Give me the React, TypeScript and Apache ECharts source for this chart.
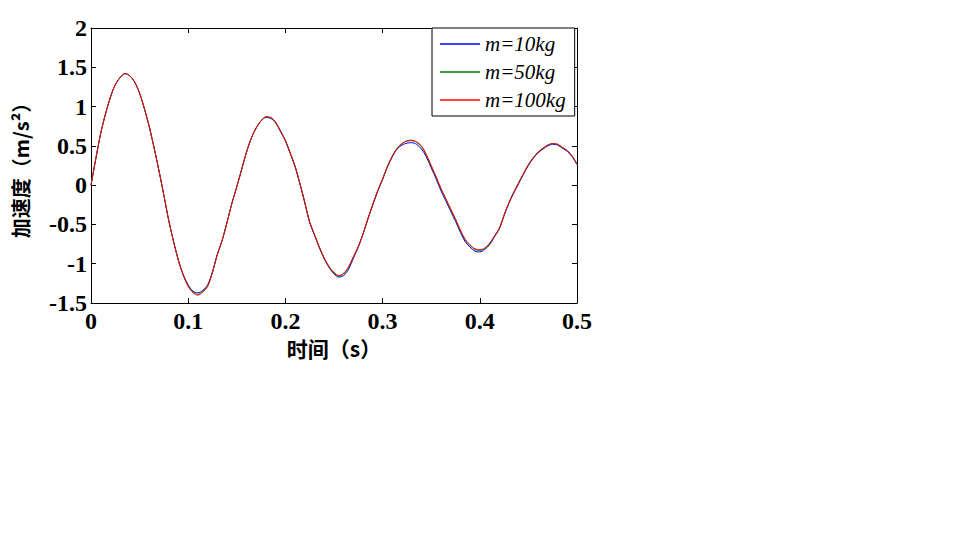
import React, { useEffect, useRef } from "react";
import * as echarts from "echarts";

const times = [
  0, 0.005, 0.01, 0.015, 0.02, 0.025, 0.03, 0.035, 0.04, 0.045,
  0.05, 0.055, 0.06, 0.065, 0.07, 0.075, 0.08, 0.085, 0.09, 0.095,
  0.1, 0.105, 0.11, 0.115, 0.12, 0.125, 0.13, 0.135, 0.14, 0.145,
  0.15, 0.155, 0.16, 0.165, 0.17, 0.175, 0.18, 0.185, 0.19, 0.195,
  0.2, 0.205, 0.21, 0.215, 0.22, 0.225, 0.23, 0.235, 0.24, 0.245,
  0.25, 0.255, 0.26, 0.265, 0.27, 0.275, 0.28, 0.285, 0.29, 0.295,
  0.3, 0.305, 0.31, 0.315, 0.32, 0.325, 0.33, 0.335, 0.34, 0.345,
  0.35, 0.355, 0.36, 0.365, 0.37, 0.375, 0.38, 0.385, 0.39, 0.395,
  0.4, 0.405, 0.41, 0.415, 0.42, 0.425, 0.43, 0.435, 0.44, 0.445,
  0.45, 0.455, 0.46, 0.465, 0.47, 0.475, 0.48, 0.485, 0.49, 0.495,
  0.5,
];

const accM100 = [
  0, 0.34, 0.66, 0.91, 1.12, 1.28, 1.37, 1.42, 1.39, 1.31,
  1.17, 0.97, 0.74, 0.47, 0.18, -0.13, -0.45, -0.72, -0.96, -1.15,
  -1.29, -1.37, -1.4, -1.36, -1.29, -1.11, -0.88, -0.7, -0.47, -0.23,
  -0.02, 0.2, 0.42, 0.6, 0.73, 0.82, 0.87, 0.86, 0.8, 0.69,
  0.57, 0.41, 0.24, 0.02, -0.22, -0.47, -0.63, -0.79, -0.93, -1.04,
  -1.11, -1.15, -1.12, -1.04, -0.91, -0.78, -0.615, -0.42, -0.24, -0.07,
  0.08, 0.24, 0.37, 0.47, 0.53, 0.565, 0.573, 0.55, 0.5, 0.39,
  0.25, 0.11, -0.04, -0.17, -0.3, -0.43, -0.57, -0.69, -0.76, -0.81,
  -0.82, -0.8, -0.74, -0.65, -0.55, -0.38, -0.22, -0.09, 0.03, 0.15,
  0.26, 0.35, 0.42, 0.47, 0.51, 0.53, 0.52, 0.48, 0.44, 0.37,
  0.27,
];

const accM50 = [
  0, 0.34, 0.66, 0.91, 1.12, 1.28, 1.37, 1.42, 1.39, 1.31,
  1.17, 0.97, 0.74, 0.47, 0.18, -0.13, -0.45, -0.72, -0.96, -1.15,
  -1.28, -1.36, -1.39, -1.35, -1.28, -1.11, -0.88, -0.7, -0.47, -0.23,
  -0.02, 0.2, 0.42, 0.6, 0.73, 0.82, 0.87, 0.86, 0.8, 0.69,
  0.57, 0.41, 0.24, 0.02, -0.22, -0.47, -0.63, -0.79, -0.93, -1.04,
  -1.12, -1.16, -1.13, -1.05, -0.91, -0.78, -0.615, -0.42, -0.24, -0.07,
  0.08, 0.24, 0.37, 0.47, 0.53, 0.56, 0.565, 0.545, 0.49, 0.38,
  0.24, 0.1, -0.05, -0.18, -0.31, -0.44, -0.58, -0.7, -0.77, -0.82,
  -0.83, -0.81, -0.75, -0.65, -0.55, -0.38, -0.22, -0.09, 0.03, 0.15,
  0.26, 0.35, 0.42, 0.47, 0.51, 0.53, 0.52, 0.48, 0.44, 0.37,
  0.27,
];

const accM10 = [
  0, 0.34, 0.66, 0.91, 1.12, 1.28, 1.37, 1.42, 1.39, 1.31,
  1.17, 0.97, 0.74, 0.47, 0.18, -0.13, -0.45, -0.72, -0.96, -1.14,
  -1.27, -1.35, -1.37, -1.34, -1.27, -1.1, -0.88, -0.7, -0.47, -0.23,
  -0.02, 0.2, 0.42, 0.6, 0.73, 0.82, 0.86, 0.85, 0.79, 0.68,
  0.56, 0.4, 0.23, 0.01, -0.23, -0.48, -0.64, -0.8, -0.94, -1.05,
  -1.13, -1.17, -1.15, -1.07, -0.93, -0.79, -0.62, -0.43, -0.25, -0.08,
  0.07, 0.23, 0.36, 0.46, 0.51, 0.535, 0.54, 0.52, 0.46, 0.36,
  0.22, 0.08, -0.07, -0.2, -0.33, -0.46, -0.6, -0.72, -0.79, -0.84,
  -0.85, -0.82, -0.76, -0.66, -0.56, -0.39, -0.23, -0.1, 0.02, 0.14,
  0.25, 0.34, 0.41, 0.46, 0.5, 0.52, 0.51, 0.47, 0.43, 0.36,
  0.26,
];

const seriesNames = ["m=10kg", "m=50kg", "m=100kg"];
const seriesColors = ["#0000ff", "#008000", "#ff0000"];
const seriesValues = [accM10, accM50, accM100];

const xAxisName = "时间（s）";
const yAxisName = "加速度（m/s²）";

export default function App() {
  const ref = useRef<HTMLDivElement>(null);

  useEffect(() => {
    if (!ref.current) return;
    const chart = echarts.init(ref.current, undefined, { renderer: "svg" });
    const labelFont = {
      fontFamily: "'Liberation Serif', serif",
      fontWeight: "bold" as const,
      fontSize: 24,
      color: "#000",
    };
    const nameFont = {
      fontFamily: "'Noto Sans CJK SC', sans-serif",
      fontWeight: "bold" as const,
      fontSize: 20,
      color: "#000",
    };
    const line = { show: true, onZero: false, lineStyle: { color: "#000", width: 1 } };
    const tick = { show: true, inside: true, length: 5, lineStyle: { color: "#000", width: 1 } };
    chart.setOption({
      animation: false,
      backgroundColor: "#fff",
      grid: { left: 91, right: 378, top: 28, bottom: 240, containLabel: false },
      legend: {
        data: seriesNames.map((name) => ({ name, icon: "rect" })),
        orient: "vertical",
        left: 432,
        top: 28,
        itemWidth: 40,
        itemHeight: 1.5,
        itemGap: 6,
        padding: [5, 9, 5, 8],
        borderColor: "#000",
        borderWidth: 1,
        backgroundColor: "#fff",
        selectedMode: false,
        textStyle: {
          fontFamily: "'Liberation Serif', serif",
          fontStyle: "italic",
          fontSize: 21,
          lineHeight: 22,
          color: "#000",
        },
      },
      xAxis: [
        {
          type: "value",
          min: 0,
          max: 0.5,
          interval: 0.1,
          name: xAxisName,
          nameLocation: "middle",
          nameGap: 34,
          nameTextStyle: { ...nameFont, fontSize: 21 },
          axisLine: line,
          axisTick: tick,
          axisLabel: { ...labelFont, margin: 6 },
          splitLine: { show: false },
        },
        {
          type: "value",
          position: "top",
          min: 0,
          max: 0.5,
          interval: 0.1,
          axisLine: line,
          axisTick: tick,
          axisLabel: { show: false },
          splitLine: { show: false },
        },
      ],
      yAxis: [
        {
          type: "value",
          min: -1.5,
          max: 2,
          interval: 0.5,
          name: yAxisName,
          nameLocation: "middle",
          nameGap: 61,
          nameTextStyle: nameFont,
          axisLine: line,
          axisTick: tick,
          axisLabel: { ...labelFont, margin: 4 },
          splitLine: { show: false },
        },
        {
          type: "value",
          position: "right",
          min: -1.5,
          max: 2,
          interval: 0.5,
          axisLine: line,
          axisTick: tick,
          axisLabel: { show: false },
          splitLine: { show: false },
        },
      ],
      series: seriesNames.map((name, i) => ({
        name,
        type: "line",
        xAxisIndex: 0,
        yAxisIndex: 0,
        data: times.map((t, j) => [t, seriesValues[i][j]]),
        smooth: 0.3,
        symbol: "none",
        lineStyle: { color: seriesColors[i], width: 1 },
        itemStyle: { color: seriesColors[i] },
        z: 2 + i,
      })),
    });
    return () => chart.dispose();
  }, []);

  return (
    <div
      ref={ref}
      style={{ position: "absolute", left: 0, top: 0, width: 955, height: 543 }}
    />
  );
}
